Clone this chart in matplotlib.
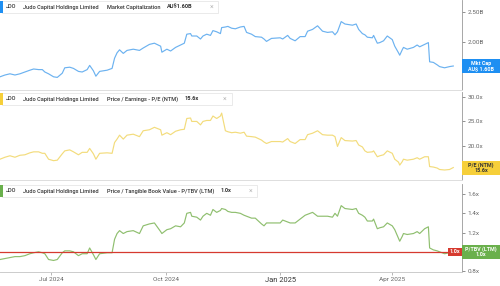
import matplotlib
matplotlib.use("Agg")
import matplotlib.pyplot as plt
import matplotlib.transforms as mtransforms
from matplotlib.patches import Rectangle
import pandas as pd

dates = pd.to_datetime([
    "2024-05-21", "2024-05-25", "2024-05-29", "2024-06-02", "2024-06-06", "2024-06-10",
    "2024-06-14", "2024-06-17", "2024-06-21", "2024-06-24", "2024-06-26", "2024-06-29",
    "2024-07-03", "2024-07-06", "2024-07-10", "2024-07-12", "2024-07-16", "2024-07-19",
    "2024-07-23", "2024-07-26", "2024-07-30", "2024-08-01", "2024-08-04", "2024-08-06",
    "2024-08-09", "2024-08-15", "2024-08-19", "2024-08-21", "2024-08-23", "2024-08-25",
    "2024-08-28", "2024-08-31", "2024-09-05", "2024-09-10", "2024-09-13", "2024-09-18",
    "2024-09-22", "2024-09-27", "2024-09-28", "2024-10-02", "2024-10-05", "2024-10-09",
    "2024-10-13", "2024-10-16", "2024-10-18", "2024-10-21", "2024-10-22", "2024-10-26",
    "2024-10-29", "2024-10-31", "2024-11-03", "2024-11-06", "2024-11-08", "2024-11-11",
    "2024-11-14", "2024-11-15", "2024-11-18", "2024-11-20", "2024-11-23", "2024-11-26",
    "2024-11-30", "2024-12-03", "2024-12-05", "2024-12-09", "2024-12-12", "2024-12-17",
    "2024-12-19", "2024-12-21", "2024-12-25", "2025-01-01", "2025-01-03", "2025-01-07",
    "2025-01-09", "2025-01-13", "2025-01-17", "2025-01-21", "2025-01-23", "2025-01-27",
    "2025-01-31", "2025-02-04", "2025-02-08", "2025-02-12", "2025-02-14", "2025-02-16",
    "2025-02-19", "2025-02-22", "2025-02-28", "2025-03-03", "2025-03-05", "2025-03-08",
    "2025-03-10", "2025-03-12", "2025-03-16", "2025-03-17", "2025-03-20", "2025-03-22",
    "2025-03-25", "2025-03-28", "2025-04-01", "2025-04-03", "2025-04-06", "2025-04-07",
    "2025-04-09", "2025-04-10", "2025-04-13", "2025-04-18", "2025-04-21", "2025-04-23",
    "2025-04-27", "2025-04-30", "2025-05-01", "2025-05-04", "2025-05-07", "2025-05-09",
    "2025-05-13", "2025-05-17", "2025-05-20",
])

# market cap, AU$ billions
mkt_cap = [
    1.42, 1.45, 1.47, 1.45, 1.47, 1.50, 1.53, 1.55, 1.54, 1.54, 1.50, 1.47,
    1.42, 1.41, 1.48, 1.57, 1.58, 1.56, 1.51, 1.50, 1.54, 1.61, 1.52, 1.43,
    1.51, 1.53, 1.56, 1.73, 1.82, 1.87, 1.81, 1.86, 1.88, 1.86, 1.90, 1.96,
    1.98, 1.93, 1.83, 1.88, 1.85, 1.91, 1.95, 1.98, 2.13, 2.14, 2.10, 2.10,
    2.05, 2.10, 2.13, 2.11, 2.19, 2.17, 2.14, 2.24, 2.25, 2.26, 2.23, 2.22,
    2.25, 2.26, 2.16, 2.13, 2.09, 2.08, 2.05, 2.01, 2.06, 2.07, 2.05, 2.11,
    2.06, 2.02, 2.09, 2.09, 2.18, 2.21, 2.27, 2.18, 2.16, 2.17, 2.12, 2.17,
    2.34, 2.30, 2.28, 2.30, 2.21, 2.14, 2.12, 2.08, 2.07, 2.11, 1.98, 1.99,
    2.02, 2.10, 2.04, 1.93, 1.82, 1.78, 1.87, 1.91, 1.88, 1.91, 1.95, 1.92,
    1.96, 1.99, 1.67, 1.66, 1.62, 1.59, 1.57, 1.59, 1.60,
]

pe_ntm = [
    17.3, 17.7, 18.0, 17.7, 18.1, 18.2, 18.6, 18.8, 18.8, 18.5, 18.5, 17.3,
    17.0, 17.1, 18.4, 19.0, 19.2, 18.8, 18.2, 18.7, 18.7, 19.5, 18.4, 17.3,
    18.5, 18.6, 18.5, 20.7, 21.4, 22.2, 21.4, 22.2, 22.4, 21.9, 23.1, 23.3,
    23.8, 23.3, 22.2, 22.7, 22.3, 23.0, 23.3, 23.4, 25.6, 25.7, 25.0, 25.0,
    24.3, 25.0, 25.2, 25.2, 26.1, 25.6, 26.1, 26.7, 23.1, 22.9, 22.7, 22.8,
    22.6, 22.8, 22.0, 21.9, 21.8, 21.2, 20.8, 20.5, 20.9, 20.9, 20.8, 21.5,
    20.9, 20.5, 21.3, 21.3, 22.3, 22.6, 23.1, 22.3, 22.2, 22.2, 21.9, 19.9,
    21.7, 21.1, 21.0, 21.1, 20.2, 19.8, 19.0, 18.7, 18.8, 19.0, 17.8, 18.0,
    18.2, 19.0, 18.5, 17.3, 16.7, 16.1, 16.8, 17.3, 17.1, 17.3, 17.6, 17.3,
    17.8, 17.8, 15.8, 15.7, 15.5, 15.2, 15.1, 15.2, 15.6,
]

ptbv_ltm = [
    0.92, 0.93, 0.94, 0.95, 0.95, 0.96, 0.98, 0.99, 1.00, 0.99, 0.98, 0.92,
    0.91, 0.92, 0.99, 1.01, 1.01, 1.00, 0.96, 0.98, 0.98, 1.04, 0.97, 0.92,
    0.98, 0.99, 0.99, 1.13, 1.19, 1.22, 1.19, 1.21, 1.22, 1.19, 1.27, 1.29,
    1.30, 1.21, 1.19, 1.23, 1.24, 1.27, 1.26, 1.30, 1.40, 1.41, 1.37, 1.36,
    1.33, 1.37, 1.40, 1.38, 1.44, 1.41, 1.43, 1.45, 1.44, 1.42, 1.41, 1.41,
    1.40, 1.38, 1.37, 1.35, 1.35, 1.29, 1.27, 1.30, 1.30, 1.30, 1.33, 1.31,
    1.30, 1.30, 1.34, 1.38, 1.39, 1.41, 1.37, 1.37, 1.37, 1.36, 1.40, 1.37,
    1.48, 1.45, 1.44, 1.45, 1.40, 1.38, 1.36, 1.32, 1.32, 1.34, 1.24, 1.25,
    1.26, 1.30, 1.27, 1.23, 1.14, 1.11, 1.16, 1.19, 1.18, 1.19, 1.21, 1.19,
    1.24, 1.26, 1.04, 1.02, 1.01, 1.00, 0.98, 0.99, 1.00,
]

x_ticks = pd.to_datetime(["2024-07-01", "2024-10-01", "2025-01-01", "2025-04-01"])
x_labels = ["Jul 2024", "Oct 2024", "Jan 2025", "Apr 2025"]

plt.rcParams["font.family"] = ["Roboto", "DejaVu Sans"]

W, H = 500, 286
fig = plt.figure(figsize=(W / 100, H / 100), dpi=100)
fig.patch.set_facecolor("white")
renderer = fig.canvas.get_renderer()

ink = "#333333"
grey = "#666666"
edge = "#dddddd"

panels = [
    dict(top=0, bottom=90, y=mkt_cap, color="#6cb2f0", ylim=(1.20, 2.70),
         ticks=[2.0, 2.5], fmt="{:.2f}B", metric="Market Capitalization",
         value="AU$1.60B", value_x=166, head_w=214,
         box="#1e8ff2", box_text="Mkt Cap\nAU$ 1.60B", box_ink="white", last=1.60),
    dict(top=92, bottom=180, y=pe_ntm, color="#f3dc7c", ylim=(13.06, 31.0),
         ticks=[20, 25, 30], fmt="{:.1f}x", metric="Price / Earnings - P/E (NTM)",
         value="15.6x", value_x=182, head_w=230,
         box="#f6cf3a", box_text="P/E (NTM)\n15.6x", box_ink="#333333", last=15.6),
    dict(top=184, bottom=272, y=ptbv_ltm, color="#8fbf6f", ylim=(0.79, 1.705),
         ticks=[0.8, 1.2, 1.4, 1.6], fmt="{:.1f}x",
         metric="Price / Tangible Book Value - P/TBV (LTM)",
         value="1.0x", value_x=217, head_w=240,
         box="#6ab04c", box_text="P/TBV (LTM)\n1.0x", box_ink="white", last=1.0),
]

plot_right = 462
xmin, xmax = pd.Timestamp("2024-05-21"), pd.Timestamp("2025-05-27")
axes = []
for p in panels:
    ax = fig.add_axes([0, 1 - p["bottom"] / H, plot_right / W,
                       (p["bottom"] - p["top"]) / H])
    axes.append(ax)
    ax.plot(dates, p["y"], color=p["color"], lw=0.85)
    ax.set_xlim(xmin, xmax)
    ax.set_ylim(*p["ylim"])
    ax.yaxis.tick_right()
    ax.set_yticks(p["ticks"])
    ax.set_yticklabels([p["fmt"].format(t) for t in p["ticks"]])
    ax.tick_params(axis="y", labelsize=4.6, colors=grey, length=2, width=0.5,
                   pad=2)
    for s in ["left", "top"]:
        ax.spines[s].set_visible(False)
    ax.spines["right"].set_color("#999999")
    ax.spines["right"].set_linewidth(0.6)
    ax.spines["bottom"].set_color(edge)
    ax.spines["bottom"].set_linewidth(0.7)
    ax.set_xticks(x_ticks)
    ax.tick_params(axis="x", length=0, labelbottom=False)

    # header strip
    ph = p["bottom"] - p["top"]
    hpx = 12 / ph
    ty = 1 - (1 + hpx * ph / 2) / ph
    text_end = 0
    for xpx, txt in [(6, "JDO"), (23, "Judo Capital Holdings Limited"),
                     (107, p["metric"])]:
        t = ax.text(xpx / plot_right, ty, txt, transform=ax.transAxes, fontsize=4.1,
                    color=ink, va="center", ha="left", fontweight="medium", zorder=5)
        text_end = t.get_window_extent(renderer).x1
    vx = max(p["value_x"], text_end + 6)
    t = ax.text(vx / plot_right, ty, p["value"], transform=ax.transAxes,
                fontsize=4.1, color=ink, va="center", ha="left",
                fontweight="bold", zorder=5)
    head_w = max(p["head_w"], t.get_window_extent(renderer).x1 + 24)
    ax.text((head_w - 5) / plot_right, ty, "\u00d7", transform=ax.transAxes,
            fontsize=5, color="#bbbbbb", va="center", ha="center", zorder=5)
    ax.add_patch(Rectangle((2 / plot_right, 1 - hpx - 1 / ph), head_w / plot_right,
                           hpx, transform=ax.transAxes, facecolor="white",
                           edgecolor="#e6e6e6", lw=0.6, clip_on=False, zorder=3))
    ax.add_patch(Rectangle((0.0, 1 - hpx - 1 / ph), 2.5 / plot_right, hpx,
                           transform=ax.transAxes, facecolor=p["box"],
                           edgecolor="none", clip_on=False, zorder=4))

    # current value tag on the right
    units_per_px = (p["ylim"][1] - p["ylim"][0]) / ph
    bh = 14 * units_per_px
    trans = mtransforms.blended_transform_factory(ax.transAxes, ax.transData)
    ax.add_patch(Rectangle((1.0, p["last"] - bh / 2), 38 / plot_right, bh,
                           transform=trans, facecolor=p["box"], edgecolor="none",
                           clip_on=False, zorder=5))
    ax.text(1.0 + 19 / plot_right, p["last"], p["box_text"], transform=trans,
            ha="center", va="center", fontsize=3.9, color=p["box_ink"],
            fontweight="bold", linespacing=1.05, zorder=6, clip_on=False)

# reference line at 1.0x on the P/TBV panel
ax3 = axes[2]
ax3.axhline(1.0, color="#d63a2f", lw=0.9, zorder=4)
trans3 = mtransforms.blended_transform_factory(ax3.transAxes, ax3.transData)
ax3.text(1.0 - 0.004, 1.0, "1.0x", transform=trans3, ha="right", va="center",
         fontsize=3.9, color="white", fontweight="bold", zorder=6,
         bbox=dict(boxstyle="square,pad=0.25", facecolor="#d63a2f",
                   edgecolor="none"))

ax3.tick_params(axis="x", length=2, width=0.5, colors="#999999",
                labelbottom=True, labelsize=4.6, labelcolor=grey, pad=1.5)
ax3.set_xticklabels(x_labels)
for lbl in ax3.get_xticklabels():
    if lbl.get_text().startswith("Jan"):
        lbl.set_fontsize(5.4)
        lbl.set_color(ink)
ax3.spines["bottom"].set_color("#cccccc")

fig.savefig("out.png", dpi=100)
